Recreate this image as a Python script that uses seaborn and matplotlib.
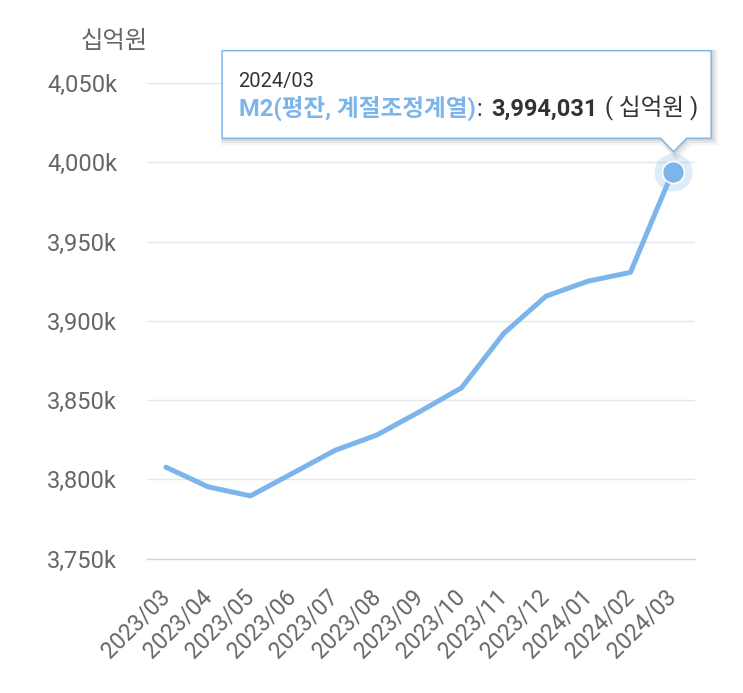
import pandas as pd
import matplotlib
matplotlib.use('Agg')
import matplotlib.pyplot as plt
import seaborn as sns
from matplotlib.patches import Polygon
from matplotlib.transforms import IdentityTransform
from matplotlib.ticker import FuncFormatter, MultipleLocator

# 데이터 (십억원)
months = ['2023/03', '2023/04', '2023/05', '2023/06', '2023/07', '2023/08', '2023/09',
          '2023/10', '2023/11', '2023/12', '2024/01', '2024/02', '2024/03']
m2 = [3807600, 3795200, 3789500, 3803800, 3818200, 3828000, 3842500,
      3857700, 3892000, 3915500, 3925000, 3930500, 3994031]
series_name = 'M2(평잔, 계절조정계열)'
unit = '십억원'

df = pd.DataFrame({'month': months, 'm2': m2})

blue = '#7cb5ec'
gray = '#666666'
dark = '#333333'

sns.set_style('white')
plt.rcParams['font.family'] = ['Roboto', 'Noto Sans CJK KR']

fig = plt.figure(figsize=(7.43, 6.93), dpi=100)
ax = fig.add_axes([147 / 743, 1 - 558.5 / 693, 548 / 743, 475.5 / 693])

sns.lineplot(data=df, x='month', y='m2', color=blue, lw=3.6, ax=ax,
             solid_capstyle='round', solid_joinstyle='round', zorder=3)

# 마지막 포인트 강조 (hover 상태)
ax.scatter(months[-1], m2[-1], s=750, color=blue, alpha=0.25, lw=0, zorder=4)
ax.scatter(months[-1], m2[-1], s=250, color=blue, edgecolor='white', lw=1.2, zorder=5)

ax.set_xlim(-0.45, 12.53)
ax.set_ylim(3750000, 4050000)
ax.yaxis.set_major_locator(MultipleLocator(50000))
ax.yaxis.set_major_formatter(FuncFormatter(lambda v, _: f'{v / 1000:,.0f}k'))
ax.yaxis.grid(True, color='#e6e6e6', lw=1, zorder=0)
ax.xaxis.grid(False)
for s in ['top', 'left', 'right']:
    ax.spines[s].set_visible(False)
ax.spines['bottom'].set_color('#ccd6eb')
ax.spines['bottom'].set_linewidth(1)

ax.tick_params(axis='y', length=0, pad=21.5, labelsize=17, labelcolor=gray)
ax.tick_params(axis='x', length=0, pad=25, labelsize=16.5, labelcolor=gray)
plt.setp(ax.get_xticklabels(), rotation=45, ha='right', va='center', rotation_mode='anchor')

ax.set_xlabel('')
ax.set_ylabel(unit, rotation=0, fontsize=17.5, color=gray, ha='center', va='center')
ax.yaxis.set_label_coords(-0.06, 1.088)

# 툴팁
fig.canvas.draw()
renderer = fig.canvas.get_renderer()
px, py = ax.transData.transform((len(months) - 1, m2[-1]))

L, R = px - 450.5, px + 38.5
T, B = py + 121, py + 33.5
verts = [(L, B), (L, T), (R, T), (R, B), (px + 14, B), (px + 1, py + 20), (px - 12, B)]

for off, a in [(3, 0.04), (2, 0.06), (1, 0.08)]:
    sh = Polygon([(x + off, y - off) for x, y in verts], closed=True, transform=IdentityTransform(),
                 facecolor='none', edgecolor='black', alpha=a, lw=2 * off, zorder=9)
    fig.add_artist(sh)
box = Polygon(verts, closed=True, transform=IdentityTransform(), facecolor='white',
              edgecolor=blue, lw=1, joinstyle='round', zorder=10)
fig.add_artist(box)

fig.text(L + 16.5, py + 85, months[-1], fontsize=14.5, color=dark, va='baseline',
         transform=IdentityTransform(), zorder=11)

parts = [(series_name, blue, 'bold', 0), (':', dark, 'normal', 1),
         (f'{m2[-1]:,}', dark, 'bold', 9), (f'( {unit} )', dark, 'normal', 8)]
x = L + 16.5
for s, c, w, gap in parts:
    x += gap
    t = fig.text(x, py + 56, s, fontsize=17, color=c, fontweight=w, va='baseline',
                 transform=IdentityTransform(), zorder=11)
    x = t.get_window_extent(renderer).x1

fig.savefig('out.png', dpi=100)
